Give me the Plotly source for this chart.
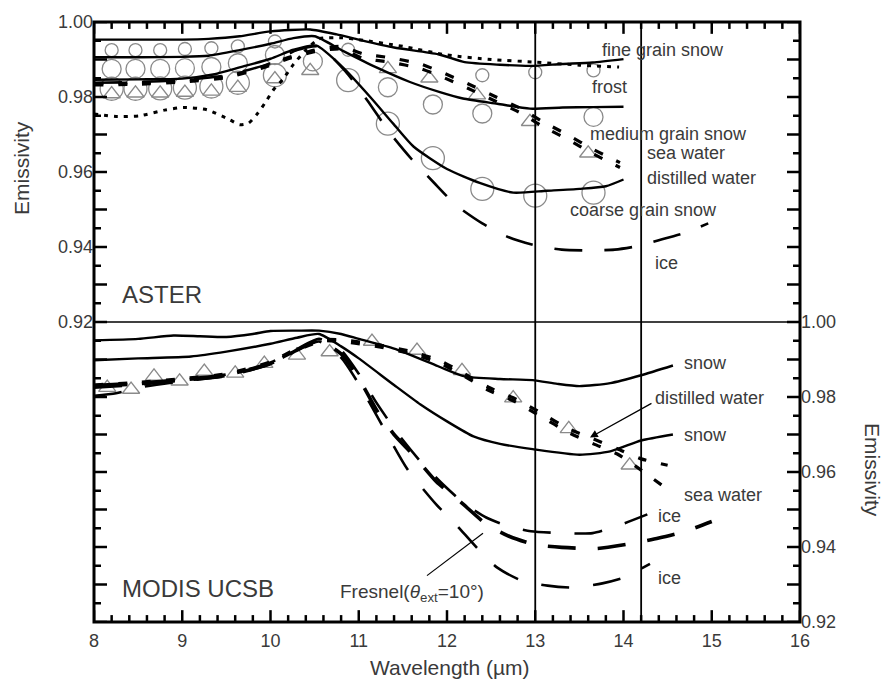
import plotly.graph_objects as go

# ---------------- ASTER panel (upper) ----------------
aster_fine_x = [8.0, 8.5, 9.0, 9.3, 9.65, 10.0, 10.45, 10.75, 11.0, 11.4, 11.9, 12.2, 12.6, 12.95, 13.3, 13.65, 14.0]
aster_fine_y = [0.9953, 0.9953, 0.9953, 0.9955, 0.9962, 0.9975, 0.9980, 0.9967, 0.9953, 0.9932, 0.9914, 0.9893, 0.9886, 0.9883, 0.9888, 0.9892, 0.9901]

aster_medium_x = [8.0, 8.5, 9.0, 9.3, 9.65, 10.0, 10.26, 10.5, 10.82, 11.2, 11.58, 11.92, 12.18, 12.57, 12.94, 13.31, 13.65, 14.0]
aster_medium_y = [0.9906, 0.9906, 0.9907, 0.9910, 0.9925, 0.9942, 0.9957, 0.9962, 0.9923, 0.9879, 0.9840, 0.9813, 0.9796, 0.9782, 0.9769, 0.9772, 0.9773, 0.9774]

aster_coarse_x = [8.0, 8.5, 9.0, 9.35, 9.65, 10.0, 10.26, 10.52, 10.82, 11.13, 11.39, 11.62, 12.0, 12.37, 12.75, 13.13, 13.5, 13.8, 14.0]
aster_coarse_y = [0.9846, 0.9847, 0.9849, 0.9860, 0.9879, 0.9902, 0.9926, 0.9937, 0.9879, 0.9800, 0.9729, 0.9668, 0.9608, 0.9571, 0.9545, 0.9550, 0.9555, 0.9562, 0.9580]

aster_frost_x = [8.0, 8.25, 8.52, 8.8, 9.01, 9.28, 9.54, 9.65, 9.75, 9.85, 9.96, 10.03, 10.14, 10.26, 10.4, 10.55, 10.8, 11.0, 11.5, 12.0, 12.5, 13.0, 13.5, 13.95]
aster_frost_y = [0.9755, 0.9748, 0.9750, 0.9765, 0.9772, 0.9766, 0.9739, 0.9726, 0.9730, 0.9755, 0.9792, 0.9818, 0.9847, 0.9887, 0.9925, 0.9955, 0.9958, 0.9953, 0.9935, 0.9912, 0.9900, 0.9893, 0.9885, 0.9880]

aster_sea_x = [8.0, 8.5, 9.0, 9.5, 9.9, 10.2, 10.5, 10.8, 11.05, 11.35, 11.7, 11.92, 12.23, 12.52, 12.83, 13.08, 13.36, 13.66, 13.96]
aster_sea_y = [0.9836, 0.9838, 0.9843, 0.9855, 0.9880, 0.9905, 0.9925, 0.9935, 0.9915, 0.9905, 0.9888, 0.9868, 0.9836, 0.9804, 0.9770, 0.9735, 0.9700, 0.9660, 0.9625]

aster_dist_x = [8.0, 8.5, 9.0, 9.5, 9.9, 10.2, 10.5, 10.8, 11.05, 11.35, 11.7, 11.92, 12.23, 12.52, 12.83, 13.08, 13.36, 13.66, 13.96]
aster_dist_y = [0.9832, 0.9834, 0.9840, 0.9852, 0.9877, 0.9902, 0.9921, 0.9928, 0.9903, 0.9893, 0.9876, 0.9856, 0.9824, 0.9792, 0.9758, 0.9722, 0.9688, 0.9648, 0.9612]

aster_ice_x = [8.0, 8.5, 9.0, 9.5, 10.0, 10.3, 10.55, 10.85, 11.1, 11.35, 11.6, 11.85, 12.1, 12.4, 12.7, 13.0, 13.3, 13.6, 13.9, 14.15, 14.4, 14.7, 14.96]
aster_ice_y = [0.9838, 0.9840, 0.9845, 0.9858, 0.9890, 0.9925, 0.9935, 0.9868, 0.9790, 0.9705, 0.9634, 0.9572, 0.9512, 0.9463, 0.9426, 0.9404, 0.9393, 0.9391, 0.9393, 0.9402, 0.9418, 0.9438, 0.9463]

# measured points (ASTER)
pts_small_x = [8.2, 8.47, 8.75, 9.03, 9.33, 9.63, 10.05, 10.88, 12.4, 13.0, 13.66]
pts_small_y = [0.9925, 0.9925, 0.9925, 0.9928, 0.9930, 0.9935, 0.9948, 0.9926, 0.9858, 0.9866, 0.9871]

pts_medium_x = [8.2, 8.47, 8.75, 9.03, 9.33, 9.63, 10.05, 10.48, 11.33, 11.84, 12.4, 13.66]
pts_medium_y = [0.9875, 0.9875, 0.9875, 0.9877, 0.9880, 0.9890, 0.9912, 0.9895, 0.9826, 0.9780, 0.9756, 0.9747]

pts_large_x = [8.2, 8.47, 8.75, 9.03, 9.33, 9.63, 10.05, 10.88, 11.33, 11.84, 12.4, 13.0, 13.66]
pts_large_y = [0.9822, 0.9822, 0.9823, 0.9825, 0.9828, 0.9838, 0.9858, 0.9845, 0.9729, 0.9637, 0.9555, 0.9537, 0.9545]

pts_tri_top_x = [8.2, 8.47, 8.75, 9.03, 9.33, 9.63, 10.05, 10.45, 11.33, 11.8, 12.34, 12.94, 13.6]
pts_tri_top_y = [0.9808, 0.9810, 0.9810, 0.9812, 0.9815, 0.9825, 0.9848, 0.9870, 0.9875, 0.9850, 0.9805, 0.9734, 0.9650]

# ---------------- MODIS UCSB panel (lower) ----------------
modis_snow1_x = [8.0, 8.5, 8.9, 9.2, 9.5, 9.8, 10.0, 10.3, 10.55, 10.8, 11.0, 11.4, 11.9, 12.2, 12.6, 12.97, 13.25, 13.5, 13.85, 14.2, 14.56]
modis_snow1_y = [0.9951, 0.9955, 0.9964, 0.9962, 0.9960, 0.9968, 0.9976, 0.9977, 0.9977, 0.9968, 0.9955, 0.9929, 0.9882, 0.9855, 0.9848, 0.9845, 0.9835, 0.9829, 0.9837, 0.9858, 0.9884]

modis_snow2_x = [8.0, 8.5, 9.1, 9.5, 10.0, 10.3, 10.55, 10.8, 11.0, 11.4, 11.7, 12.0, 12.3, 12.6, 12.97, 13.5, 13.85, 14.2, 14.56]
modis_snow2_y = [0.9898, 0.9903, 0.9908, 0.9921, 0.9942, 0.9958, 0.9968, 0.9935, 0.9903, 0.9832, 0.9780, 0.9735, 0.9695, 0.9675, 0.9661, 0.9646, 0.9655, 0.9684, 0.9700]

modis_sea_x = [8.0, 8.5, 9.0, 9.5, 10.0, 10.3, 10.6, 10.9, 11.2, 11.6, 11.92, 12.2, 12.47, 12.75, 13.05, 13.38, 13.66, 13.93, 14.2, 14.55]
modis_sea_y = [0.9828, 0.9835, 0.9845, 0.9858, 0.9890, 0.9925, 0.9950, 0.9945, 0.9935, 0.9915, 0.9890, 0.9855, 0.9818, 0.9790, 0.9750, 0.9705, 0.9675, 0.9648, 0.9605, 0.9545]

modis_dist_x = [8.0, 8.5, 9.0, 9.5, 10.0, 10.3, 10.6, 10.9, 11.2, 11.6, 11.92, 12.2, 12.47, 12.75, 13.05, 13.38, 13.66, 13.93, 14.2, 14.5]
modis_dist_y = [0.9832, 0.9839, 0.9849, 0.9862, 0.9894, 0.9929, 0.9953, 0.9950, 0.9940, 0.9921, 0.9897, 0.9862, 0.9826, 0.9798, 0.9760, 0.9715, 0.9688, 0.9662, 0.9635, 0.9618]

modis_ice1_x = [8.0, 8.5, 9.0, 9.5, 10.0, 10.3, 10.55, 10.8, 11.0, 11.2, 11.45, 11.7, 11.95, 12.2, 12.45, 12.7, 12.95, 13.3, 13.65, 13.95, 14.27]
modis_ice1_y = [0.9832, 0.9838, 0.9848, 0.9860, 0.9892, 0.9928, 0.9955, 0.9925, 0.9862, 0.9785, 0.9700, 0.9628, 0.9568, 0.9515, 0.9478, 0.9455, 0.9442, 0.9437, 0.9437, 0.9458, 0.9487]

modis_ice2_x = [8.0, 8.5, 9.0, 9.5, 10.0, 10.3, 10.55, 10.8, 11.0, 11.2, 11.4, 11.62, 11.88, 12.15, 12.45, 12.71, 13.0, 13.3, 13.7, 14.1, 14.4, 14.7, 15.0]
modis_ice2_y = [0.9826, 0.9834, 0.9845, 0.9857, 0.9889, 0.9925, 0.9950, 0.9915, 0.9850, 0.9766, 0.9700, 0.9645, 0.9574, 0.9521, 0.9460, 0.9428, 0.9406, 0.9399, 0.9396, 0.9410, 0.9424, 0.9442, 0.9468]

modis_ice3_x = [8.0, 8.25, 8.5, 9.0, 9.5, 10.0, 10.3, 10.55, 10.8, 11.0, 11.24, 11.55, 11.88, 12.07, 12.37, 12.57, 12.85, 13.14, 13.43, 13.76, 14.0, 14.3]
modis_ice3_y = [0.9803, 0.9810, 0.9825, 0.9842, 0.9856, 0.9888, 0.9925, 0.9948, 0.9905, 0.9835, 0.9735, 0.9608, 0.9513, 0.9468, 0.9390, 0.9345, 0.9310, 0.9297, 0.9292, 0.9303, 0.9318, 0.9355]

pts_tri_bot_x = [8.15, 8.42, 8.68, 8.97, 9.25, 9.6, 9.93, 10.3, 10.67, 11.15, 11.66, 12.17, 12.75, 13.38, 14.07]
pts_tri_bot_y = [0.9825, 0.9820, 0.9855, 0.9842, 0.9868, 0.9863, 0.9889, 0.9911, 0.9920, 0.9948, 0.9924, 0.9870, 0.9797, 0.9715, 0.9618]

# reference wavelengths marked by vertical lines
vlines_x = [13.0, 14.2]

# axis ticks and labels
xtickvals = [8, 9, 10, 11, 12, 13, 14, 15, 16]
ytickvals = [0.92, 0.93, 0.94, 0.95, 0.96, 0.97, 0.98, 0.99, 1.00]
yticktext = ["0.92", "", "0.94", "", "0.96", "", "0.98", "", "1.00"]
x_minor_step = 0.2
y_minor_step = 0.005

INK = "black"
TXT = "#3a3a3a"
PT = "#8a8a8a"
FONT = "Liberation Sans, Arial, sans-serif"

W, H = 886, 682
ML, MR, MT, MB = 94, 86, 14, 60
PW, PH = W - ML - MR, H - MT - MB

fig = go.Figure()


def marks(x, y, ax, symbol, size):
    fig.add_trace(go.Scatter(
        x=x, y=y, xaxis=ax[0], yaxis=ax[1], mode="markers",
        marker=dict(symbol=symbol, size=size, color=PT, line=dict(color=PT, width=1.3)),
        hoverinfo="skip"))


def curve(x, y, ax, dash="solid", width=2.4):
    fig.add_trace(go.Scatter(
        x=x, y=y, xaxis=ax[0], yaxis=ax[1], mode="lines",
        line=dict(color=INK, width=width, dash=dash, shape="spline", smoothing=0.6),
        hoverinfo="skip"))


TOP = ("x", "y")
BOT = ("x2", "y2")

# upper panel
marks(pts_small_x, pts_small_y, TOP, "circle-open", 13)
marks(pts_medium_x, pts_medium_y, TOP, "circle-open", 19)
marks(pts_large_x, pts_large_y, TOP, "circle-open", 23)
marks(pts_tri_top_x, pts_tri_top_y, TOP, "triangle-up-open", 15)
curve(aster_fine_x, aster_fine_y, TOP)
curve(aster_medium_x, aster_medium_y, TOP)
curve(aster_coarse_x, aster_coarse_y, TOP)
curve(aster_frost_x, aster_frost_y, TOP, dash="4px,6px", width=3)
curve(aster_sea_x, aster_sea_y, TOP, dash="9px,15px", width=3.2)
curve(aster_dist_x, aster_dist_y, TOP, dash="9px,15px", width=3.2)
curve(aster_ice_x, aster_ice_y, TOP, dash="28px,22px", width=2.6)

# lower panel
marks(pts_tri_bot_x, pts_tri_bot_y, BOT, "triangle-up-open", 15)
curve(modis_snow1_x, modis_snow1_y, BOT)
curve(modis_snow2_x, modis_snow2_y, BOT)
curve(modis_sea_x, modis_sea_y, BOT, dash="9px,15px", width=3.2)
curve(modis_dist_x, modis_dist_y, BOT, dash="9px,15px", width=3.2)
curve(modis_ice1_x, modis_ice1_y, BOT, dash="28px,24px", width=2.6)
curve(modis_ice2_x, modis_ice2_y, BOT, dash="28px,22px", width=3.6)
curve(modis_ice3_x, modis_ice3_y, BOT, dash="28px,24px", width=2.6)

tickfont = dict(family=FONT, size=18, color=TXT)

xbase = dict(range=[8, 16], tickmode="array", tickvals=xtickvals, ticks="",
             showgrid=False, zeroline=False, showline=False, domain=[0, 1], tickfont=tickfont)
ybase = dict(range=[0.92, 1.00], tickmode="array", tickvals=ytickvals, ticktext=yticktext,
             ticks="", showgrid=False, zeroline=False, showline=False, tickfont=tickfont)

fig.update_layout(
    width=W, height=H,
    margin=dict(l=ML, r=MR, t=MT, b=MB),
    paper_bgcolor="white", plot_bgcolor="white",
    showlegend=False,
    font=dict(family=FONT, color=TXT),
    xaxis={**xbase, "anchor": "y", "side": "top", "showticklabels": False},
    yaxis={**ybase, "anchor": "x", "domain": [0.5, 1], "side": "left"},
    xaxis2={**xbase, "anchor": "y2", "side": "bottom", "ticklabelstandoff": 6},
    yaxis2={**ybase, "anchor": "x2", "domain": [0, 0.5], "side": "right"},
)

shapes = [
    dict(type="rect", xref="paper", yref="paper", x0=0, x1=1, y0=0, y1=1,
         line=dict(color=INK, width=3), fillcolor="rgba(0,0,0,0)", layer="above"),
    dict(type="line", xref="paper", yref="paper", x0=0, x1=1, y0=0.5, y1=0.5,
         line=dict(color=INK, width=1.6), layer="above"),
    # leader line for the Fresnel label
    dict(type="line", xref="x2", yref="y2", x0=11.773, y0=0.93237, x1=12.408, y1=0.94368,
         line=dict(color=INK, width=1.2)),
]
for v in vlines_x:
    shapes.append(dict(type="line", xref="x", yref="paper", x0=v, x1=v, y0=0, y1=1,
                       line=dict(color=INK, width=1.8), layer="above"))

# inward tick marks on all four edges (major + minor)
tick_line = dict(color=INK, width=2.5)
x_minor = [round(8 + k * x_minor_step, 3) for k in range(1, 40)]
x_minor = [v for v in x_minor if abs(v - round(v)) > 1e-6]
y_minor = [round(0.92 + k * y_minor_step, 4) for k in range(1, 16, 2)]

for xv, ln in [(v, 12) for v in xtickvals] + [(v, 7) for v in x_minor]:
    dy = ln / PH
    # top edge of the upper panel, pointing down
    shapes.append(dict(type="line", xref="x", yref="paper", x0=xv, x1=xv, y0=1, y1=1 - dy,
                       line=tick_line, layer="above"))
    # bottom edge of the lower panel, pointing up
    shapes.append(dict(type="line", xref="x2", yref="paper", x0=xv, x1=xv, y0=0, y1=dy,
                       line=tick_line, layer="above"))

for yv, ln in [(v, 13) for v in ytickvals] + [(v, 7) for v in y_minor]:
    dx = ln / PW
    for yref in ("y", "y2"):
        shapes.append(dict(type="line", xref="paper", yref=yref, x0=0, x1=dx, y0=yv, y1=yv,
                           line=tick_line, layer="above"))
        shapes.append(dict(type="line", xref="paper", yref=yref, x0=1, x1=1 - dx, y0=yv, y1=yv,
                           line=tick_line, layer="above"))
fig.update_layout(shapes=shapes)

lab = dict(family=FONT, size=18, color=TXT)
big = dict(family=FONT, size=24, color=TXT)
title_font = dict(family=FONT, size=21, color=TXT)


def note(text, x, y, ax, font=lab, xanchor="left"):
    return dict(text=text, x=x, y=y, xref=ax[0], yref=ax[1], showarrow=False,
                xanchor=xanchor, yanchor="middle", font=font)


annotations = [
    note("fine grain snow", 13.73, 0.99263, TOP),
    note("frost", 13.62, 0.98263, TOP),
    note("medium grain snow", 13.60, 0.97026, TOP),
    note("sea water", 14.24, 0.9650, TOP),
    note("distilled water", 14.24, 0.95842, TOP),
    note("coarse grain snow", 13.37, 0.94974, TOP),
    note("ice", 14.33, 0.93579, TOP),
    note("ASTER", 8.29, 0.92737, TOP, font=big),
    note("snow", 14.66, 0.98895, BOT),
    note("distilled water", 14.33, 0.97974, BOT),
    note("snow", 14.66, 0.96974, BOT),
    note("sea water", 14.66, 0.95395, BOT),
    note("ice", 14.37, 0.94816, BOT),
    note("ice", 14.37, 0.93184, BOT),
    note("MODIS UCSB", 8.29, 0.92895, BOT, font=big),
    note("Fresnel(<i>θ</i><sub>ext</sub>=10°)", 10.77, 0.92763, BOT,
         font=dict(family=FONT, size=19, color=TXT)),
    # arrow pointing at the distilled-water curve
    dict(text="", x=13.62, y=0.9692, xref="x2", yref="y2", showarrow=True,
         ax=63, ay=-35, arrowhead=2, arrowsize=1.2, arrowwidth=1.3, arrowcolor=INK),
    dict(text="Emissivity", x=-0.1034, y=0.7566, xref="paper", yref="paper",
         xanchor="center", yanchor="middle", showarrow=False, textangle=-90, font=title_font),
    dict(text="Emissivity", x=1.1034, y=0.2533, xref="paper", yref="paper",
         xanchor="center", yanchor="middle", showarrow=False, textangle=90, font=title_font),
    dict(text="Wavelength (µm)", x=0.504, y=-0.0757, xref="paper", yref="paper",
         xanchor="center", yanchor="middle", showarrow=False, font=title_font),
]
fig.update_layout(annotations=annotations)

fig.write_html("out.html")
